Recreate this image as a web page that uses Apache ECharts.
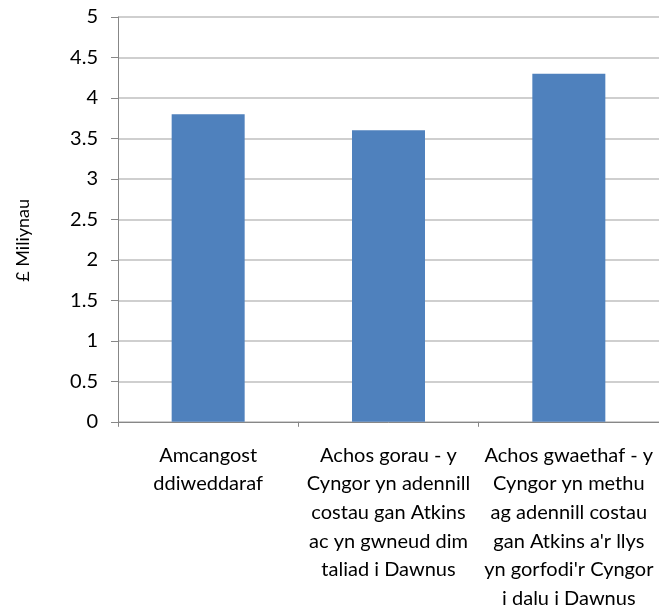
<!DOCTYPE html>
<html>
<head>
<meta charset="utf-8">
<script src="https://cdn.jsdelivr.net/npm/echarts@6/dist/echarts.min.js"></script>
<style>html,body{margin:0;padding:0;background:#fff}#c{width:659px;height:613px}</style>
</head>
<body>
<div id="c"></div>
<script>
const categories = [
  "Amcangost\nddiweddaraf",
  "Achos gorau - y\nCyngor yn adennill\ncostau gan Atkins\nac yn gwneud dim\ntaliad i Dawnus",
  "Achos gwaethaf - y\nCyngor yn methu\nag adennill costau\ngan Atkins a'r llys\nyn gorfodi'r Cyngor\ni dalu i Dawnus"
];
const values = [3.8, 3.6, 4.3];
const yAxisName = "£ Miliynau";

const chart = echarts.init(document.getElementById('c'));
chart.setOption({
  animation: false,
  grid: {left: 118, top: 17, width: 543, height: 406, containLabel: false},
  xAxis: {
    type: 'category',
    data: categories,
    axisLine: {lineStyle: {color: '#878787', width: 1}},
    axisTick: {show: true, length: 5, alignWithLabel: false, lineStyle: {color: '#878787'}},
    axisLabel: {
      interval: 0, margin: 19, color: '#000', fontFamily: 'Lato', fontSize: 20, lineHeight: 28.7, align: 'center'
    }
  },
  yAxis: {
    type: 'value', min: 0, max: 5, interval: 0.5,
    name: yAxisName, nameLocation: 'middle', nameGap: 86,
    nameTextStyle: {color: '#000', fontFamily: 'Lato', fontSize: 18, padding: [0, 42, 0, 0]},
    axisLine: {show: true, lineStyle: {color: '#878787'}},
    axisTick: {show: true, length: 7, inside: false, lineStyle: {color: '#878787'}},
    axisLabel: {margin: 20, color: '#000', fontFamily: 'Lato', fontSize: 20},
    splitLine: {show: true, lineStyle: {color: '#BFBFBF', width: 1.5}}
  },
  series: [{
    type: 'bar', data: values, barWidth: 73,
    itemStyle: {color: '#4F81BD'}
  }]
});
</script>
</body>
</html>
